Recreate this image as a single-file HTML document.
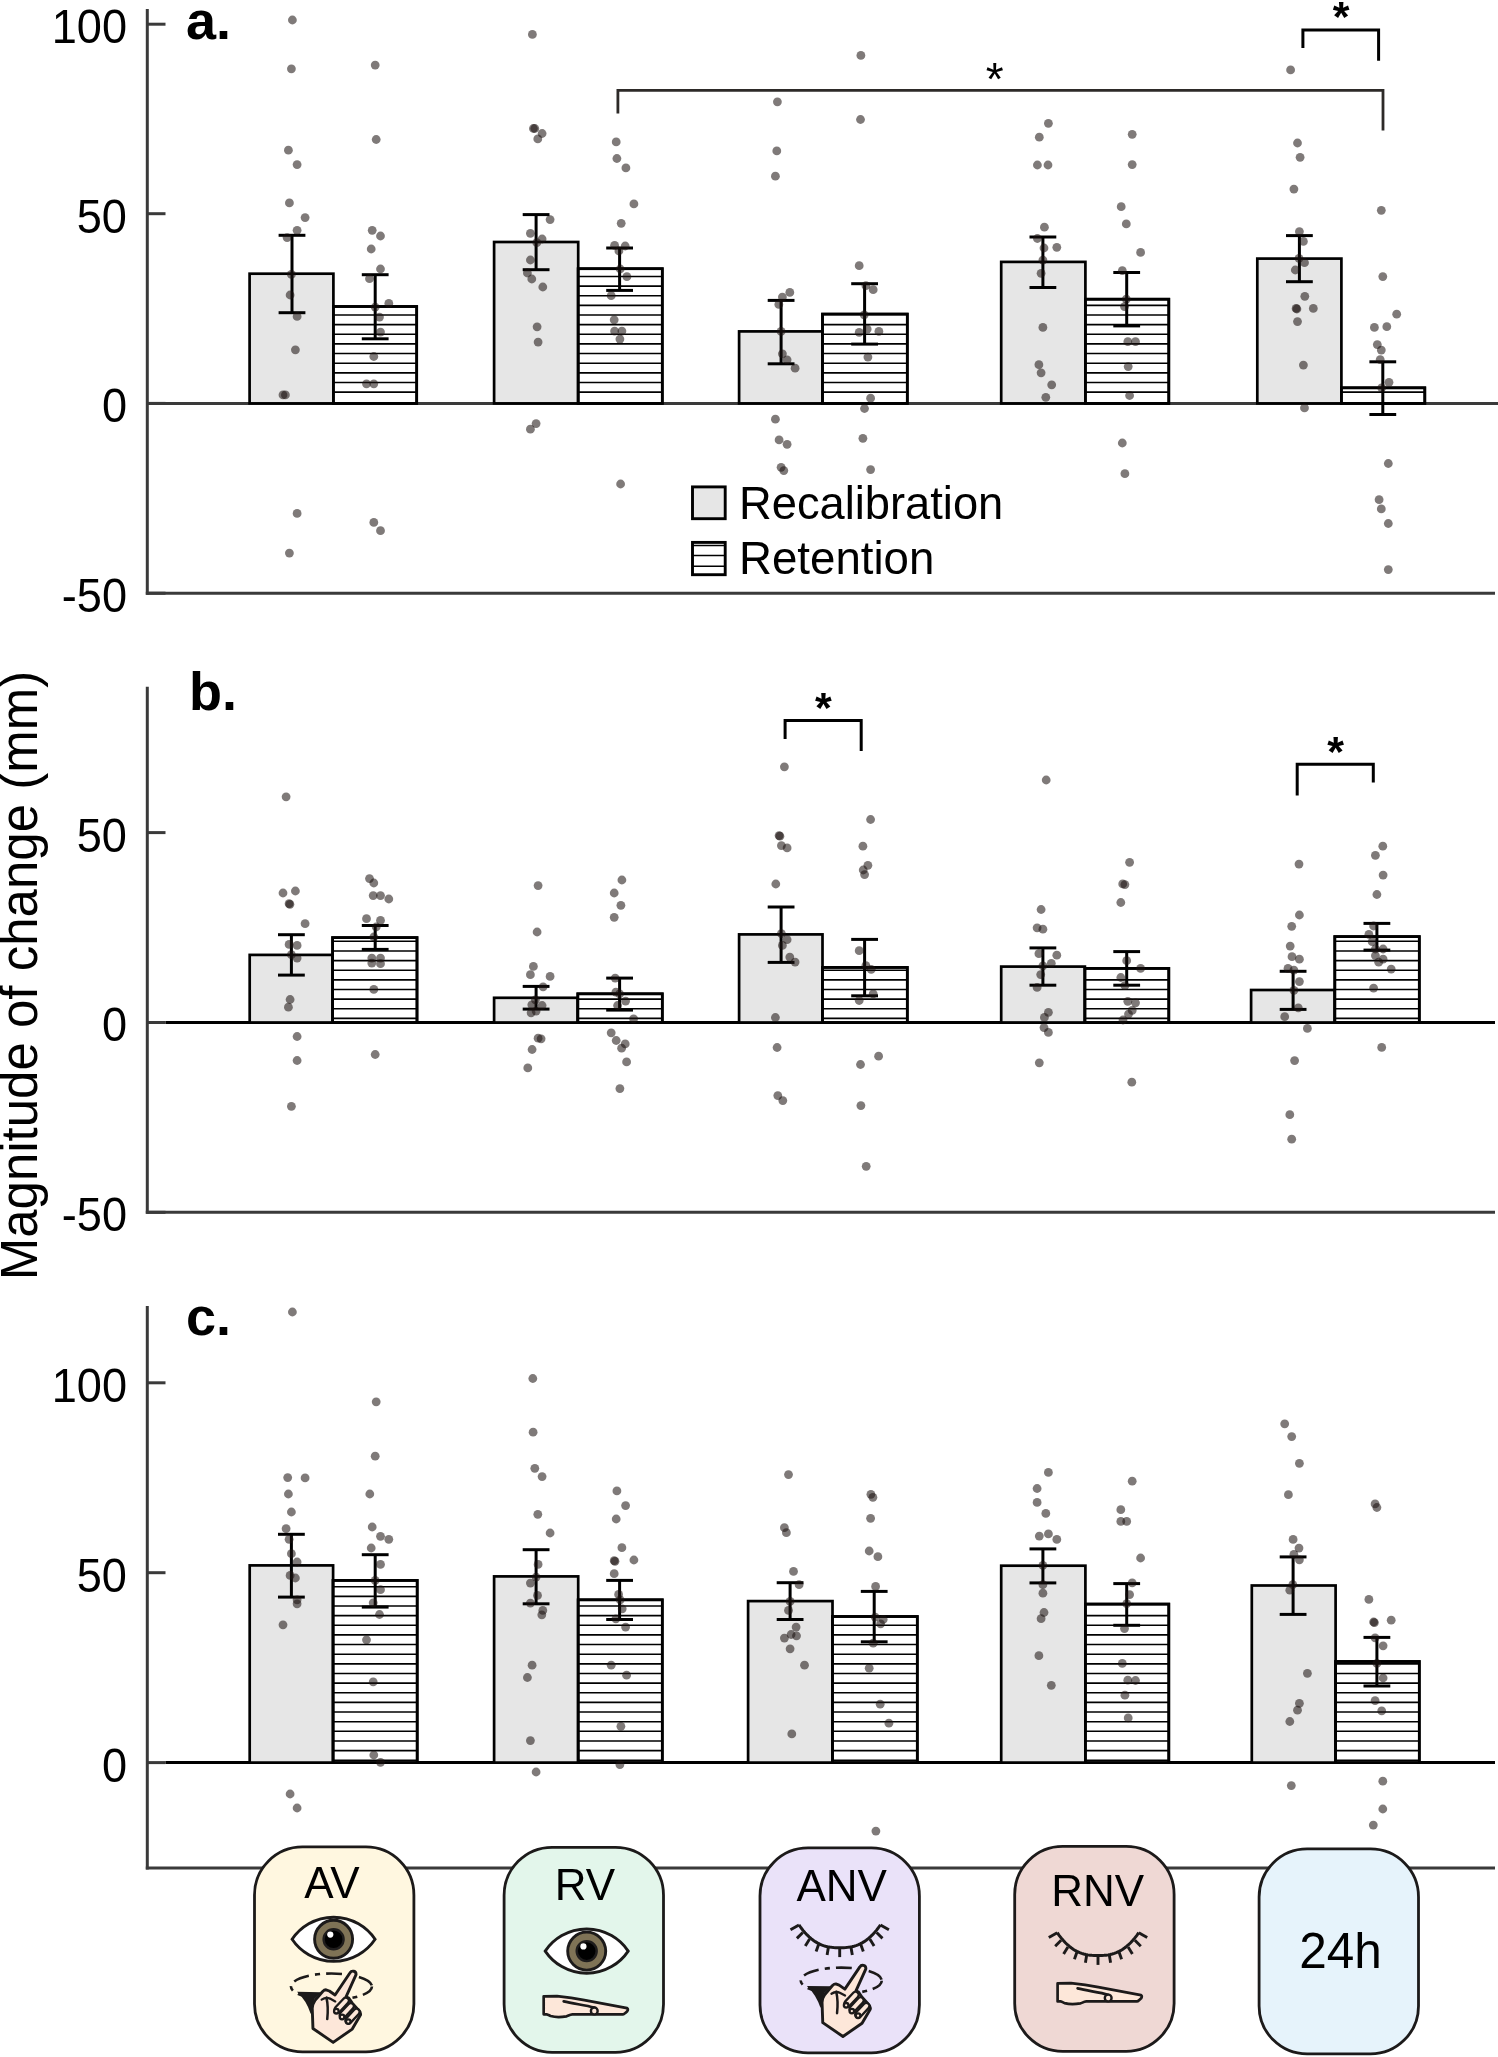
<!DOCTYPE html>
<html><head><meta charset="utf-8"><style>
html,body{margin:0;padding:0;background:#fff;overflow:hidden;width:1498px;height:2057px;}
svg{display:block;will-change:transform;}
text{font-family:"Liberation Sans",sans-serif;fill:#000;}
</style></head><body>
<svg width="1498" height="2057" viewBox="0 0 1498 2057">
<rect width="1498" height="2057" fill="#fff"/>
<line x1="147.3" y1="9.1" x2="147.3" y2="594.7" stroke="#3a3a3a" stroke-width="3.0"/>
<line x1="145.8" y1="593.2" x2="1495" y2="593.2" stroke="#3a3a3a" stroke-width="3.0"/>
<line x1="147.3" y1="24.2" x2="165.5" y2="24.2" stroke="#3a3a3a" stroke-width="3.0"/>
<text transform="translate(127 43.1) scale(0.955 1)" font-size="47.3" text-anchor="end">100</text>
<line x1="147.3" y1="213.7" x2="165.5" y2="213.7" stroke="#3a3a3a" stroke-width="3.0"/>
<text transform="translate(127 232.6) scale(0.955 1)" font-size="47.3" text-anchor="end">50</text>
<line x1="147.3" y1="403.4" x2="165.5" y2="403.4" stroke="#3a3a3a" stroke-width="3.0"/>
<text transform="translate(127 422.3) scale(0.955 1)" font-size="47.3" text-anchor="end">0</text>
<line x1="147.3" y1="593.2" x2="165.5" y2="593.2" stroke="#3a3a3a" stroke-width="3.0"/>
<text transform="translate(127 612.1) scale(0.955 1)" font-size="47.3" text-anchor="end">-50</text>
<line x1="147.3" y1="403.4" x2="1498" y2="403.4" stroke="#3a3a3a" stroke-width="3.0"/>
<rect x="249.6" y="273.7" width="83.8" height="129.7" fill="#e6e6e6" stroke="#000" stroke-width="2.7"/>
<rect x="333.4" y="306.5" width="83.3" height="96.9" fill="#fff" stroke="#000" stroke-width="2.7"/>
<line x1="333.4" y1="315" x2="416.7" y2="315" stroke="#000" stroke-width="1.6"/>
<line x1="333.4" y1="324.64" x2="416.7" y2="324.64" stroke="#000" stroke-width="1.6"/>
<line x1="333.4" y1="334.28" x2="416.7" y2="334.28" stroke="#000" stroke-width="1.6"/>
<line x1="333.4" y1="343.92" x2="416.7" y2="343.92" stroke="#000" stroke-width="1.6"/>
<line x1="333.4" y1="353.56" x2="416.7" y2="353.56" stroke="#000" stroke-width="1.6"/>
<line x1="333.4" y1="363.2" x2="416.7" y2="363.2" stroke="#000" stroke-width="1.6"/>
<line x1="333.4" y1="372.84" x2="416.7" y2="372.84" stroke="#000" stroke-width="1.6"/>
<line x1="333.4" y1="382.48" x2="416.7" y2="382.48" stroke="#000" stroke-width="1.6"/>
<line x1="333.4" y1="392.12" x2="416.7" y2="392.12" stroke="#000" stroke-width="1.6"/>
<rect x="333.4" y="306.5" width="83.3" height="96.9" fill="none" stroke="#000" stroke-width="2.7"/>
<rect x="494.1" y="242" width="84.1" height="161.4" fill="#e6e6e6" stroke="#000" stroke-width="2.7"/>
<rect x="578.2" y="268.7" width="84.1" height="134.7" fill="#fff" stroke="#000" stroke-width="2.7"/>
<line x1="578.2" y1="276.44" x2="662.3" y2="276.44" stroke="#000" stroke-width="1.6"/>
<line x1="578.2" y1="286.08" x2="662.3" y2="286.08" stroke="#000" stroke-width="1.6"/>
<line x1="578.2" y1="295.72" x2="662.3" y2="295.72" stroke="#000" stroke-width="1.6"/>
<line x1="578.2" y1="305.36" x2="662.3" y2="305.36" stroke="#000" stroke-width="1.6"/>
<line x1="578.2" y1="315" x2="662.3" y2="315" stroke="#000" stroke-width="1.6"/>
<line x1="578.2" y1="324.64" x2="662.3" y2="324.64" stroke="#000" stroke-width="1.6"/>
<line x1="578.2" y1="334.28" x2="662.3" y2="334.28" stroke="#000" stroke-width="1.6"/>
<line x1="578.2" y1="343.92" x2="662.3" y2="343.92" stroke="#000" stroke-width="1.6"/>
<line x1="578.2" y1="353.56" x2="662.3" y2="353.56" stroke="#000" stroke-width="1.6"/>
<line x1="578.2" y1="363.2" x2="662.3" y2="363.2" stroke="#000" stroke-width="1.6"/>
<line x1="578.2" y1="372.84" x2="662.3" y2="372.84" stroke="#000" stroke-width="1.6"/>
<line x1="578.2" y1="382.48" x2="662.3" y2="382.48" stroke="#000" stroke-width="1.6"/>
<line x1="578.2" y1="392.12" x2="662.3" y2="392.12" stroke="#000" stroke-width="1.6"/>
<rect x="578.2" y="268.7" width="84.1" height="134.7" fill="none" stroke="#000" stroke-width="2.7"/>
<rect x="739.1" y="331.4" width="83.4" height="72" fill="#e6e6e6" stroke="#000" stroke-width="2.7"/>
<rect x="822.5" y="314.1" width="84.8" height="89.3" fill="#fff" stroke="#000" stroke-width="2.7"/>
<line x1="822.5" y1="324.64" x2="907.3" y2="324.64" stroke="#000" stroke-width="1.6"/>
<line x1="822.5" y1="334.28" x2="907.3" y2="334.28" stroke="#000" stroke-width="1.6"/>
<line x1="822.5" y1="343.92" x2="907.3" y2="343.92" stroke="#000" stroke-width="1.6"/>
<line x1="822.5" y1="353.56" x2="907.3" y2="353.56" stroke="#000" stroke-width="1.6"/>
<line x1="822.5" y1="363.2" x2="907.3" y2="363.2" stroke="#000" stroke-width="1.6"/>
<line x1="822.5" y1="372.84" x2="907.3" y2="372.84" stroke="#000" stroke-width="1.6"/>
<line x1="822.5" y1="382.48" x2="907.3" y2="382.48" stroke="#000" stroke-width="1.6"/>
<line x1="822.5" y1="392.12" x2="907.3" y2="392.12" stroke="#000" stroke-width="1.6"/>
<rect x="822.5" y="314.1" width="84.8" height="89.3" fill="none" stroke="#000" stroke-width="2.7"/>
<rect x="1001.2" y="261.9" width="84.2" height="141.5" fill="#e6e6e6" stroke="#000" stroke-width="2.7"/>
<rect x="1085.4" y="299.2" width="83.4" height="104.2" fill="#fff" stroke="#000" stroke-width="2.7"/>
<line x1="1085.4" y1="305.36" x2="1168.8" y2="305.36" stroke="#000" stroke-width="1.6"/>
<line x1="1085.4" y1="315" x2="1168.8" y2="315" stroke="#000" stroke-width="1.6"/>
<line x1="1085.4" y1="324.64" x2="1168.8" y2="324.64" stroke="#000" stroke-width="1.6"/>
<line x1="1085.4" y1="334.28" x2="1168.8" y2="334.28" stroke="#000" stroke-width="1.6"/>
<line x1="1085.4" y1="343.92" x2="1168.8" y2="343.92" stroke="#000" stroke-width="1.6"/>
<line x1="1085.4" y1="353.56" x2="1168.8" y2="353.56" stroke="#000" stroke-width="1.6"/>
<line x1="1085.4" y1="363.2" x2="1168.8" y2="363.2" stroke="#000" stroke-width="1.6"/>
<line x1="1085.4" y1="372.84" x2="1168.8" y2="372.84" stroke="#000" stroke-width="1.6"/>
<line x1="1085.4" y1="382.48" x2="1168.8" y2="382.48" stroke="#000" stroke-width="1.6"/>
<line x1="1085.4" y1="392.12" x2="1168.8" y2="392.12" stroke="#000" stroke-width="1.6"/>
<rect x="1085.4" y="299.2" width="83.4" height="104.2" fill="none" stroke="#000" stroke-width="2.7"/>
<rect x="1257.3" y="258.6" width="84.1" height="144.8" fill="#e6e6e6" stroke="#000" stroke-width="2.7"/>
<rect x="1341.4" y="387.8" width="83.4" height="15.6" fill="#fff" stroke="#000" stroke-width="2.7"/>
<line x1="1341.4" y1="392.12" x2="1424.8" y2="392.12" stroke="#000" stroke-width="1.6"/>
<rect x="1341.4" y="387.8" width="83.4" height="15.6" fill="none" stroke="#000" stroke-width="2.7"/>
<line x1="292" y1="235.3" x2="292" y2="312.7" stroke="#000" stroke-width="3.0"/>
<line x1="278.6" y1="235.3" x2="305.4" y2="235.3" stroke="#000" stroke-width="3.0"/>
<line x1="278.6" y1="312.7" x2="305.4" y2="312.7" stroke="#000" stroke-width="3.0"/>
<line x1="375.2" y1="274.7" x2="375.2" y2="338.8" stroke="#000" stroke-width="3.0"/>
<line x1="361.8" y1="274.7" x2="388.6" y2="274.7" stroke="#000" stroke-width="3.0"/>
<line x1="361.8" y1="338.8" x2="388.6" y2="338.8" stroke="#000" stroke-width="3.0"/>
<line x1="536.1" y1="214.6" x2="536.1" y2="269.7" stroke="#000" stroke-width="3.0"/>
<line x1="522.7" y1="214.6" x2="549.5" y2="214.6" stroke="#000" stroke-width="3.0"/>
<line x1="522.7" y1="269.7" x2="549.5" y2="269.7" stroke="#000" stroke-width="3.0"/>
<line x1="619.6" y1="248" x2="619.6" y2="290.4" stroke="#000" stroke-width="3.0"/>
<line x1="606.2" y1="248" x2="633" y2="248" stroke="#000" stroke-width="3.0"/>
<line x1="606.2" y1="290.4" x2="633" y2="290.4" stroke="#000" stroke-width="3.0"/>
<line x1="781.1" y1="300.4" x2="781.1" y2="363.8" stroke="#000" stroke-width="3.0"/>
<line x1="767.7" y1="300.4" x2="794.5" y2="300.4" stroke="#000" stroke-width="3.0"/>
<line x1="767.7" y1="363.8" x2="794.5" y2="363.8" stroke="#000" stroke-width="3.0"/>
<line x1="864.6" y1="283.7" x2="864.6" y2="344.1" stroke="#000" stroke-width="3.0"/>
<line x1="851.2" y1="283.7" x2="878" y2="283.7" stroke="#000" stroke-width="3.0"/>
<line x1="851.2" y1="344.1" x2="878" y2="344.1" stroke="#000" stroke-width="3.0"/>
<line x1="1042.9" y1="237" x2="1042.9" y2="287.5" stroke="#000" stroke-width="3.0"/>
<line x1="1029.5" y1="237" x2="1056.3" y2="237" stroke="#000" stroke-width="3.0"/>
<line x1="1029.5" y1="287.5" x2="1056.3" y2="287.5" stroke="#000" stroke-width="3.0"/>
<line x1="1126.7" y1="272.5" x2="1126.7" y2="325.9" stroke="#000" stroke-width="3.0"/>
<line x1="1113.3" y1="272.5" x2="1140.1" y2="272.5" stroke="#000" stroke-width="3.0"/>
<line x1="1113.3" y1="325.9" x2="1140.1" y2="325.9" stroke="#000" stroke-width="3.0"/>
<line x1="1299.4" y1="235.6" x2="1299.4" y2="281.7" stroke="#000" stroke-width="3.0"/>
<line x1="1286" y1="235.6" x2="1312.8" y2="235.6" stroke="#000" stroke-width="3.0"/>
<line x1="1286" y1="281.7" x2="1312.8" y2="281.7" stroke="#000" stroke-width="3.0"/>
<line x1="1382.8" y1="361.8" x2="1382.8" y2="414.5" stroke="#000" stroke-width="3.0"/>
<line x1="1369.4" y1="361.8" x2="1396.2" y2="361.8" stroke="#000" stroke-width="3.0"/>
<line x1="1369.4" y1="414.5" x2="1396.2" y2="414.5" stroke="#000" stroke-width="3.0"/>
<g fill="#1a1210" fill-opacity="0.56">
<circle cx="292.4" cy="20" r="4.4"/>
<circle cx="291.4" cy="68.8" r="4.4"/>
<circle cx="288.4" cy="150.2" r="4.4"/>
<circle cx="297.1" cy="164.6" r="4.4"/>
<circle cx="289.4" cy="202.9" r="4.4"/>
<circle cx="305.1" cy="217.6" r="4.4"/>
<circle cx="297.1" cy="230.3" r="4.4"/>
<circle cx="287.1" cy="237.6" r="4.4"/>
<circle cx="291.4" cy="274.4" r="4.4"/>
<circle cx="290.1" cy="295" r="4.4"/>
<circle cx="297.1" cy="316.4" r="4.4"/>
<circle cx="295.4" cy="349.8" r="4.4"/>
<circle cx="285.4" cy="394.9" r="4.4"/>
<circle cx="283" cy="394.9" r="4.4"/>
<circle cx="297.1" cy="513.4" r="4.4"/>
<circle cx="289.4" cy="553.1" r="4.4"/>
<circle cx="375.2" cy="65.1" r="4.4"/>
<circle cx="376.2" cy="139.5" r="4.4"/>
<circle cx="372.2" cy="230.3" r="4.4"/>
<circle cx="380.5" cy="236" r="4.4"/>
<circle cx="371.2" cy="249" r="4.4"/>
<circle cx="380.5" cy="269" r="4.4"/>
<circle cx="369.5" cy="278.7" r="4.4"/>
<circle cx="388.8" cy="303.4" r="4.4"/>
<circle cx="375.2" cy="307.1" r="4.4"/>
<circle cx="379.5" cy="317.1" r="4.4"/>
<circle cx="380.5" cy="332.1" r="4.4"/>
<circle cx="373.8" cy="356.5" r="4.4"/>
<circle cx="366.5" cy="383.8" r="4.4"/>
<circle cx="373.8" cy="383.8" r="4.4"/>
<circle cx="373.8" cy="522.4" r="4.4"/>
<circle cx="380.5" cy="530.7" r="4.4"/>
<circle cx="532.4" cy="34.4" r="4.4"/>
<circle cx="533.4" cy="128.5" r="4.4"/>
<circle cx="534.8" cy="128.5" r="4.4"/>
<circle cx="542.1" cy="133.5" r="4.4"/>
<circle cx="537.8" cy="138.9" r="4.4"/>
<circle cx="550.1" cy="219.6" r="4.4"/>
<circle cx="530.4" cy="233.3" r="4.4"/>
<circle cx="542.1" cy="239" r="4.4"/>
<circle cx="536.8" cy="242.7" r="4.4"/>
<circle cx="530.4" cy="260" r="4.4"/>
<circle cx="527.4" cy="273" r="4.4"/>
<circle cx="531.8" cy="279" r="4.4"/>
<circle cx="542.8" cy="287" r="4.4"/>
<circle cx="537.1" cy="326.8" r="4.4"/>
<circle cx="538.1" cy="342.1" r="4.4"/>
<circle cx="536.1" cy="423.6" r="4.4"/>
<circle cx="530.4" cy="429.2" r="4.4"/>
<circle cx="616.2" cy="141.9" r="4.4"/>
<circle cx="616.9" cy="158.5" r="4.4"/>
<circle cx="625.9" cy="167.9" r="4.4"/>
<circle cx="633.9" cy="203.9" r="4.4"/>
<circle cx="621.2" cy="223.3" r="4.4"/>
<circle cx="614.6" cy="245.3" r="4.4"/>
<circle cx="625.2" cy="246" r="4.4"/>
<circle cx="618.9" cy="251" r="4.4"/>
<circle cx="620.2" cy="269" r="4.4"/>
<circle cx="626.9" cy="276.7" r="4.4"/>
<circle cx="611.2" cy="295.7" r="4.4"/>
<circle cx="614.2" cy="319.8" r="4.4"/>
<circle cx="614.6" cy="331.1" r="4.4"/>
<circle cx="621.9" cy="331.1" r="4.4"/>
<circle cx="619.9" cy="339.1" r="4.4"/>
<circle cx="620.6" cy="484" r="4.4"/>
<circle cx="777.4" cy="101.8" r="4.4"/>
<circle cx="776.8" cy="150.9" r="4.4"/>
<circle cx="775.4" cy="176.2" r="4.4"/>
<circle cx="789.8" cy="292.4" r="4.4"/>
<circle cx="782.4" cy="297.1" r="4.4"/>
<circle cx="778.8" cy="304.4" r="4.4"/>
<circle cx="781.1" cy="331.4" r="4.4"/>
<circle cx="782.4" cy="353.8" r="4.4"/>
<circle cx="787.1" cy="359.8" r="4.4"/>
<circle cx="795.1" cy="368.2" r="4.4"/>
<circle cx="775.4" cy="419.2" r="4.4"/>
<circle cx="779.1" cy="439.9" r="4.4"/>
<circle cx="787.1" cy="444.3" r="4.4"/>
<circle cx="781.1" cy="467.3" r="4.4"/>
<circle cx="783.8" cy="470.6" r="4.4"/>
<circle cx="860.9" cy="55.4" r="4.4"/>
<circle cx="860.5" cy="119.5" r="4.4"/>
<circle cx="859.2" cy="265.7" r="4.4"/>
<circle cx="865.9" cy="285.7" r="4.4"/>
<circle cx="873.2" cy="289.7" r="4.4"/>
<circle cx="864.2" cy="314.8" r="4.4"/>
<circle cx="859.2" cy="332.4" r="4.4"/>
<circle cx="867.2" cy="329.1" r="4.4"/>
<circle cx="878.9" cy="331.4" r="4.4"/>
<circle cx="867.9" cy="357.1" r="4.4"/>
<circle cx="870.6" cy="398.2" r="4.4"/>
<circle cx="864.5" cy="408.5" r="4.4"/>
<circle cx="862.9" cy="438.3" r="4.4"/>
<circle cx="870.6" cy="469.6" r="4.4"/>
<circle cx="1048.4" cy="123.3" r="4.4"/>
<circle cx="1039.3" cy="137.2" r="4.4"/>
<circle cx="1037.4" cy="165" r="4.4"/>
<circle cx="1048" cy="165" r="4.4"/>
<circle cx="1044.4" cy="227.2" r="4.4"/>
<circle cx="1037.4" cy="238.5" r="4.4"/>
<circle cx="1044" cy="248" r="4.4"/>
<circle cx="1056.8" cy="247.3" r="4.4"/>
<circle cx="1042.9" cy="260.1" r="4.4"/>
<circle cx="1041.1" cy="273.3" r="4.4"/>
<circle cx="1042.9" cy="327.4" r="4.4"/>
<circle cx="1038.9" cy="364.7" r="4.4"/>
<circle cx="1041.1" cy="372.8" r="4.4"/>
<circle cx="1051.7" cy="384.8" r="4.4"/>
<circle cx="1045.8" cy="397.3" r="4.4"/>
<circle cx="1132.2" cy="134.3" r="4.4"/>
<circle cx="1132.2" cy="164.6" r="4.4"/>
<circle cx="1121.2" cy="206.7" r="4.4"/>
<circle cx="1126.3" cy="223.9" r="4.4"/>
<circle cx="1140.6" cy="252.4" r="4.4"/>
<circle cx="1122.3" cy="270.7" r="4.4"/>
<circle cx="1126.3" cy="299.2" r="4.4"/>
<circle cx="1124.5" cy="306.6" r="4.4"/>
<circle cx="1127.8" cy="341.7" r="4.4"/>
<circle cx="1135.5" cy="341.7" r="4.4"/>
<circle cx="1128.2" cy="366.6" r="4.4"/>
<circle cx="1129.6" cy="395.5" r="4.4"/>
<circle cx="1122.3" cy="443" r="4.4"/>
<circle cx="1124.9" cy="473.7" r="4.4"/>
<circle cx="1290.6" cy="69.9" r="4.4"/>
<circle cx="1297.5" cy="143" r="4.4"/>
<circle cx="1300.1" cy="157.3" r="4.4"/>
<circle cx="1293.9" cy="189.1" r="4.4"/>
<circle cx="1299.4" cy="231.6" r="4.4"/>
<circle cx="1303.4" cy="241.4" r="4.4"/>
<circle cx="1299" cy="258.3" r="4.4"/>
<circle cx="1304.5" cy="262.7" r="4.4"/>
<circle cx="1295.3" cy="270" r="4.4"/>
<circle cx="1304.8" cy="296.3" r="4.4"/>
<circle cx="1296.1" cy="308.4" r="4.4"/>
<circle cx="1313.3" cy="308.4" r="4.4"/>
<circle cx="1297.5" cy="321.6" r="4.4"/>
<circle cx="1303.4" cy="365.1" r="4.4"/>
<circle cx="1304.5" cy="407.9" r="4.4"/>
<circle cx="1381.3" cy="210.3" r="4.4"/>
<circle cx="1382.8" cy="276.6" r="4.4"/>
<circle cx="1396.7" cy="314.2" r="4.4"/>
<circle cx="1374.4" cy="327.4" r="4.4"/>
<circle cx="1386.8" cy="326.7" r="4.4"/>
<circle cx="1377.3" cy="344.6" r="4.4"/>
<circle cx="1381.3" cy="350.1" r="4.4"/>
<circle cx="1380.2" cy="359.6" r="4.4"/>
<circle cx="1389" cy="382.3" r="4.4"/>
<circle cx="1381.7" cy="387.8" r="4.4"/>
<circle cx="1388.3" cy="463.5" r="4.4"/>
<circle cx="1379.1" cy="499.7" r="4.4"/>
<circle cx="1381.3" cy="508.9" r="4.4"/>
<circle cx="1388.3" cy="523.5" r="4.4"/>
<circle cx="1388.3" cy="569.6" r="4.4"/>
<circle cx="1296.9" cy="309" r="4.4"/>
</g>
<line x1="147.3" y1="686.7" x2="147.3" y2="1213.8" stroke="#3a3a3a" stroke-width="3.0"/>
<line x1="145.8" y1="1212.3" x2="1495" y2="1212.3" stroke="#3a3a3a" stroke-width="3.0"/>
<line x1="147.3" y1="832.6" x2="165.5" y2="832.6" stroke="#3a3a3a" stroke-width="3.0"/>
<text transform="translate(127 851.5) scale(0.955 1)" font-size="47.3" text-anchor="end">50</text>
<line x1="147.3" y1="1022.5" x2="165.5" y2="1022.5" stroke="#3a3a3a" stroke-width="3.0"/>
<text transform="translate(127 1041.4) scale(0.955 1)" font-size="47.3" text-anchor="end">0</text>
<line x1="147.3" y1="1212.3" x2="165.5" y2="1212.3" stroke="#3a3a3a" stroke-width="3.0"/>
<text transform="translate(127 1231.2) scale(0.955 1)" font-size="47.3" text-anchor="end">-50</text>
<line x1="165.5" y1="1022.5" x2="1495" y2="1022.5" stroke="#000" stroke-width="3.0"/>
<rect x="249.7" y="954.9" width="82.9" height="67.6" fill="#e6e6e6" stroke="#000" stroke-width="2.7"/>
<rect x="332.6" y="937.6" width="84.4" height="84.9" fill="#fff" stroke="#000" stroke-width="2.7"/>
<line x1="332.6" y1="941.3" x2="417" y2="941.3" stroke="#000" stroke-width="1.6"/>
<line x1="332.6" y1="950.94" x2="417" y2="950.94" stroke="#000" stroke-width="1.6"/>
<line x1="332.6" y1="960.58" x2="417" y2="960.58" stroke="#000" stroke-width="1.6"/>
<line x1="332.6" y1="970.22" x2="417" y2="970.22" stroke="#000" stroke-width="1.6"/>
<line x1="332.6" y1="979.86" x2="417" y2="979.86" stroke="#000" stroke-width="1.6"/>
<line x1="332.6" y1="989.5" x2="417" y2="989.5" stroke="#000" stroke-width="1.6"/>
<line x1="332.6" y1="999.14" x2="417" y2="999.14" stroke="#000" stroke-width="1.6"/>
<line x1="332.6" y1="1008.78" x2="417" y2="1008.78" stroke="#000" stroke-width="1.6"/>
<line x1="332.6" y1="1018.42" x2="417" y2="1018.42" stroke="#000" stroke-width="1.6"/>
<rect x="332.6" y="937.6" width="84.4" height="84.9" fill="none" stroke="#000" stroke-width="2.7"/>
<rect x="494.1" y="997.8" width="83.7" height="24.7" fill="#e6e6e6" stroke="#000" stroke-width="2.7"/>
<rect x="577.8" y="993.8" width="84.5" height="28.7" fill="#fff" stroke="#000" stroke-width="2.7"/>
<line x1="577.8" y1="999.14" x2="662.3" y2="999.14" stroke="#000" stroke-width="1.6"/>
<line x1="577.8" y1="1008.78" x2="662.3" y2="1008.78" stroke="#000" stroke-width="1.6"/>
<line x1="577.8" y1="1018.42" x2="662.3" y2="1018.42" stroke="#000" stroke-width="1.6"/>
<rect x="577.8" y="993.8" width="84.5" height="28.7" fill="none" stroke="#000" stroke-width="2.7"/>
<rect x="739.1" y="934.4" width="83.4" height="88.1" fill="#e6e6e6" stroke="#000" stroke-width="2.7"/>
<rect x="822.5" y="967.4" width="84.8" height="55.1" fill="#fff" stroke="#000" stroke-width="2.7"/>
<line x1="822.5" y1="970.22" x2="907.3" y2="970.22" stroke="#000" stroke-width="1.6"/>
<line x1="822.5" y1="979.86" x2="907.3" y2="979.86" stroke="#000" stroke-width="1.6"/>
<line x1="822.5" y1="989.5" x2="907.3" y2="989.5" stroke="#000" stroke-width="1.6"/>
<line x1="822.5" y1="999.14" x2="907.3" y2="999.14" stroke="#000" stroke-width="1.6"/>
<line x1="822.5" y1="1008.78" x2="907.3" y2="1008.78" stroke="#000" stroke-width="1.6"/>
<line x1="822.5" y1="1018.42" x2="907.3" y2="1018.42" stroke="#000" stroke-width="1.6"/>
<rect x="822.5" y="967.4" width="84.8" height="55.1" fill="none" stroke="#000" stroke-width="2.7"/>
<rect x="1001.2" y="966.6" width="83.7" height="55.9" fill="#e6e6e6" stroke="#000" stroke-width="2.7"/>
<rect x="1084.9" y="968.4" width="83.9" height="54.1" fill="#fff" stroke="#000" stroke-width="2.7"/>
<line x1="1084.9" y1="979.86" x2="1168.8" y2="979.86" stroke="#000" stroke-width="1.6"/>
<line x1="1084.9" y1="989.5" x2="1168.8" y2="989.5" stroke="#000" stroke-width="1.6"/>
<line x1="1084.9" y1="999.14" x2="1168.8" y2="999.14" stroke="#000" stroke-width="1.6"/>
<line x1="1084.9" y1="1008.78" x2="1168.8" y2="1008.78" stroke="#000" stroke-width="1.6"/>
<line x1="1084.9" y1="1018.42" x2="1168.8" y2="1018.42" stroke="#000" stroke-width="1.6"/>
<rect x="1084.9" y="968.4" width="83.9" height="54.1" fill="none" stroke="#000" stroke-width="2.7"/>
<rect x="1251.1" y="990" width="83.7" height="32.5" fill="#e6e6e6" stroke="#000" stroke-width="2.7"/>
<rect x="1334.8" y="936.6" width="84.5" height="85.9" fill="#fff" stroke="#000" stroke-width="2.7"/>
<line x1="1334.8" y1="941.3" x2="1419.3" y2="941.3" stroke="#000" stroke-width="1.6"/>
<line x1="1334.8" y1="950.94" x2="1419.3" y2="950.94" stroke="#000" stroke-width="1.6"/>
<line x1="1334.8" y1="960.58" x2="1419.3" y2="960.58" stroke="#000" stroke-width="1.6"/>
<line x1="1334.8" y1="970.22" x2="1419.3" y2="970.22" stroke="#000" stroke-width="1.6"/>
<line x1="1334.8" y1="979.86" x2="1419.3" y2="979.86" stroke="#000" stroke-width="1.6"/>
<line x1="1334.8" y1="989.5" x2="1419.3" y2="989.5" stroke="#000" stroke-width="1.6"/>
<line x1="1334.8" y1="999.14" x2="1419.3" y2="999.14" stroke="#000" stroke-width="1.6"/>
<line x1="1334.8" y1="1008.78" x2="1419.3" y2="1008.78" stroke="#000" stroke-width="1.6"/>
<line x1="1334.8" y1="1018.42" x2="1419.3" y2="1018.42" stroke="#000" stroke-width="1.6"/>
<rect x="1334.8" y="936.6" width="84.5" height="85.9" fill="none" stroke="#000" stroke-width="2.7"/>
<line x1="291.4" y1="934.7" x2="291.4" y2="975.1" stroke="#000" stroke-width="3.0"/>
<line x1="278" y1="934.7" x2="304.8" y2="934.7" stroke="#000" stroke-width="3.0"/>
<line x1="278" y1="975.1" x2="304.8" y2="975.1" stroke="#000" stroke-width="3.0"/>
<line x1="375.2" y1="925.5" x2="375.2" y2="949.4" stroke="#000" stroke-width="3.0"/>
<line x1="361.8" y1="925.5" x2="388.6" y2="925.5" stroke="#000" stroke-width="3.0"/>
<line x1="361.8" y1="949.4" x2="388.6" y2="949.4" stroke="#000" stroke-width="3.0"/>
<line x1="536.1" y1="986.4" x2="536.1" y2="1009.1" stroke="#000" stroke-width="3.0"/>
<line x1="522.7" y1="986.4" x2="549.5" y2="986.4" stroke="#000" stroke-width="3.0"/>
<line x1="522.7" y1="1009.1" x2="549.5" y2="1009.1" stroke="#000" stroke-width="3.0"/>
<line x1="619.6" y1="978.1" x2="619.6" y2="1010.1" stroke="#000" stroke-width="3.0"/>
<line x1="606.2" y1="978.1" x2="633" y2="978.1" stroke="#000" stroke-width="3.0"/>
<line x1="606.2" y1="1010.1" x2="633" y2="1010.1" stroke="#000" stroke-width="3.0"/>
<line x1="781.1" y1="907" x2="781.1" y2="962.4" stroke="#000" stroke-width="3.0"/>
<line x1="767.7" y1="907" x2="794.5" y2="907" stroke="#000" stroke-width="3.0"/>
<line x1="767.7" y1="962.4" x2="794.5" y2="962.4" stroke="#000" stroke-width="3.0"/>
<line x1="864.6" y1="939.4" x2="864.6" y2="995.8" stroke="#000" stroke-width="3.0"/>
<line x1="851.2" y1="939.4" x2="878" y2="939.4" stroke="#000" stroke-width="3.0"/>
<line x1="851.2" y1="995.8" x2="878" y2="995.8" stroke="#000" stroke-width="3.0"/>
<line x1="1042.9" y1="947.9" x2="1042.9" y2="985.2" stroke="#000" stroke-width="3.0"/>
<line x1="1029.5" y1="947.9" x2="1056.3" y2="947.9" stroke="#000" stroke-width="3.0"/>
<line x1="1029.5" y1="985.2" x2="1056.3" y2="985.2" stroke="#000" stroke-width="3.0"/>
<line x1="1126.7" y1="951.6" x2="1126.7" y2="985.2" stroke="#000" stroke-width="3.0"/>
<line x1="1113.3" y1="951.6" x2="1140.1" y2="951.6" stroke="#000" stroke-width="3.0"/>
<line x1="1113.3" y1="985.2" x2="1140.1" y2="985.2" stroke="#000" stroke-width="3.0"/>
<line x1="1293.1" y1="971.3" x2="1293.1" y2="1009.4" stroke="#000" stroke-width="3.0"/>
<line x1="1279.7" y1="971.3" x2="1306.5" y2="971.3" stroke="#000" stroke-width="3.0"/>
<line x1="1279.7" y1="1009.4" x2="1306.5" y2="1009.4" stroke="#000" stroke-width="3.0"/>
<line x1="1376.9" y1="923.4" x2="1376.9" y2="950.1" stroke="#000" stroke-width="3.0"/>
<line x1="1363.5" y1="923.4" x2="1390.3" y2="923.4" stroke="#000" stroke-width="3.0"/>
<line x1="1363.5" y1="950.1" x2="1390.3" y2="950.1" stroke="#000" stroke-width="3.0"/>
<g fill="#1a1210" fill-opacity="0.56">
<circle cx="286.1" cy="796.8" r="4.4"/>
<circle cx="283" cy="893" r="4.4"/>
<circle cx="295.4" cy="891" r="4.4"/>
<circle cx="289.1" cy="903.7" r="4.4"/>
<circle cx="305.1" cy="923.7" r="4.4"/>
<circle cx="289.1" cy="944.4" r="4.4"/>
<circle cx="297.1" cy="945.4" r="4.4"/>
<circle cx="291.4" cy="954.7" r="4.4"/>
<circle cx="297.1" cy="958.1" r="4.4"/>
<circle cx="290.1" cy="999.5" r="4.4"/>
<circle cx="288.4" cy="1007.2" r="4.4"/>
<circle cx="297.1" cy="1036.5" r="4.4"/>
<circle cx="297.1" cy="1060.5" r="4.4"/>
<circle cx="291.4" cy="1106.3" r="4.4"/>
<circle cx="369.5" cy="878.6" r="4.4"/>
<circle cx="373.8" cy="883" r="4.4"/>
<circle cx="373.2" cy="895.6" r="4.4"/>
<circle cx="380.5" cy="895.6" r="4.4"/>
<circle cx="388.8" cy="899" r="4.4"/>
<circle cx="366.5" cy="918.7" r="4.4"/>
<circle cx="380.5" cy="920.4" r="4.4"/>
<circle cx="376.2" cy="927" r="4.4"/>
<circle cx="373.8" cy="937" r="4.4"/>
<circle cx="371.8" cy="958.1" r="4.4"/>
<circle cx="380.5" cy="958.1" r="4.4"/>
<circle cx="371.8" cy="963.1" r="4.4"/>
<circle cx="380.5" cy="963.7" r="4.4"/>
<circle cx="373.8" cy="989.4" r="4.4"/>
<circle cx="375.2" cy="1054.5" r="4.4"/>
<circle cx="538.1" cy="885.6" r="4.4"/>
<circle cx="537.1" cy="932" r="4.4"/>
<circle cx="533.4" cy="966.4" r="4.4"/>
<circle cx="530.4" cy="974.7" r="4.4"/>
<circle cx="550.1" cy="976.4" r="4.4"/>
<circle cx="543.1" cy="986.8" r="4.4"/>
<circle cx="535.4" cy="999.8" r="4.4"/>
<circle cx="531.8" cy="1004.8" r="4.4"/>
<circle cx="542.1" cy="1005.5" r="4.4"/>
<circle cx="536.1" cy="1011.1" r="4.4"/>
<circle cx="531.1" cy="1012.8" r="4.4"/>
<circle cx="538.1" cy="1038.2" r="4.4"/>
<circle cx="541.1" cy="1038.8" r="4.4"/>
<circle cx="532.1" cy="1049.5" r="4.4"/>
<circle cx="527.8" cy="1067.9" r="4.4"/>
<circle cx="621.9" cy="880" r="4.4"/>
<circle cx="614.2" cy="893" r="4.4"/>
<circle cx="620.9" cy="905.3" r="4.4"/>
<circle cx="614.2" cy="917.3" r="4.4"/>
<circle cx="615.2" cy="978.1" r="4.4"/>
<circle cx="615.9" cy="992.1" r="4.4"/>
<circle cx="619.6" cy="993.8" r="4.4"/>
<circle cx="625.6" cy="1001.1" r="4.4"/>
<circle cx="617.6" cy="1005.5" r="4.4"/>
<circle cx="633.6" cy="1018.8" r="4.4"/>
<circle cx="611.2" cy="1032.8" r="4.4"/>
<circle cx="616.2" cy="1040.5" r="4.4"/>
<circle cx="625.2" cy="1043.9" r="4.4"/>
<circle cx="621.6" cy="1048.2" r="4.4"/>
<circle cx="626.6" cy="1061.9" r="4.4"/>
<circle cx="619.9" cy="1088.6" r="4.4"/>
<circle cx="784.4" cy="766.8" r="4.4"/>
<circle cx="779.1" cy="835.6" r="4.4"/>
<circle cx="781.4" cy="845.6" r="4.4"/>
<circle cx="787.1" cy="847.9" r="4.4"/>
<circle cx="775.8" cy="884" r="4.4"/>
<circle cx="781.4" cy="933.7" r="4.4"/>
<circle cx="787.1" cy="939.7" r="4.4"/>
<circle cx="782.4" cy="945.4" r="4.4"/>
<circle cx="789.8" cy="957.1" r="4.4"/>
<circle cx="795.1" cy="962.1" r="4.4"/>
<circle cx="775.4" cy="1017.5" r="4.4"/>
<circle cx="777.1" cy="1047.5" r="4.4"/>
<circle cx="777.8" cy="1095.6" r="4.4"/>
<circle cx="782.8" cy="1100.6" r="4.4"/>
<circle cx="870.6" cy="819.5" r="4.4"/>
<circle cx="862.9" cy="846.2" r="4.4"/>
<circle cx="867.9" cy="865.3" r="4.4"/>
<circle cx="863.2" cy="870" r="4.4"/>
<circle cx="864.6" cy="874.6" r="4.4"/>
<circle cx="859.2" cy="950.7" r="4.4"/>
<circle cx="865.9" cy="965.7" r="4.4"/>
<circle cx="871.2" cy="969.4" r="4.4"/>
<circle cx="873.2" cy="993.8" r="4.4"/>
<circle cx="859.2" cy="1000.5" r="4.4"/>
<circle cx="878.6" cy="1056.2" r="4.4"/>
<circle cx="860.5" cy="1064.5" r="4.4"/>
<circle cx="860.9" cy="1105.6" r="4.4"/>
<circle cx="866.2" cy="1166.3" r="4.4"/>
<circle cx="1046.2" cy="780" r="4.4"/>
<circle cx="1041.1" cy="909.5" r="4.4"/>
<circle cx="1037.1" cy="927.8" r="4.4"/>
<circle cx="1042.9" cy="929.2" r="4.4"/>
<circle cx="1038.9" cy="953.7" r="4.4"/>
<circle cx="1056.8" cy="955.2" r="4.4"/>
<circle cx="1051.3" cy="963.3" r="4.4"/>
<circle cx="1042.9" cy="965.8" r="4.4"/>
<circle cx="1040.7" cy="974.6" r="4.4"/>
<circle cx="1037.1" cy="987.4" r="4.4"/>
<circle cx="1048.4" cy="1012.3" r="4.4"/>
<circle cx="1044.4" cy="1017.4" r="4.4"/>
<circle cx="1044" cy="1027.6" r="4.4"/>
<circle cx="1048.4" cy="1032.4" r="4.4"/>
<circle cx="1039.3" cy="1062.8" r="4.4"/>
<circle cx="1129.6" cy="862.3" r="4.4"/>
<circle cx="1122.7" cy="883.9" r="4.4"/>
<circle cx="1124.9" cy="884.6" r="4.4"/>
<circle cx="1120.8" cy="902.5" r="4.4"/>
<circle cx="1126.7" cy="960.7" r="4.4"/>
<circle cx="1140.6" cy="968.4" r="4.4"/>
<circle cx="1120.8" cy="977.5" r="4.4"/>
<circle cx="1124.9" cy="985.6" r="4.4"/>
<circle cx="1127.8" cy="1001.3" r="4.4"/>
<circle cx="1135.5" cy="1002.8" r="4.4"/>
<circle cx="1132.2" cy="1010.4" r="4.4"/>
<circle cx="1128.5" cy="1014.1" r="4.4"/>
<circle cx="1123" cy="1020" r="4.4"/>
<circle cx="1131.8" cy="1082.2" r="4.4"/>
<circle cx="1299" cy="864.1" r="4.4"/>
<circle cx="1299.4" cy="915" r="4.4"/>
<circle cx="1291.7" cy="926.3" r="4.4"/>
<circle cx="1290.2" cy="946.1" r="4.4"/>
<circle cx="1292" cy="956.7" r="4.4"/>
<circle cx="1299.4" cy="959.2" r="4.4"/>
<circle cx="1288" cy="968.4" r="4.4"/>
<circle cx="1293.9" cy="970.2" r="4.4"/>
<circle cx="1299.4" cy="981.6" r="4.4"/>
<circle cx="1293.9" cy="990.3" r="4.4"/>
<circle cx="1298.3" cy="1007.9" r="4.4"/>
<circle cx="1284.7" cy="1016.7" r="4.4"/>
<circle cx="1307.4" cy="1028.4" r="4.4"/>
<circle cx="1294.6" cy="1060.6" r="4.4"/>
<circle cx="1289.8" cy="1114.7" r="4.4"/>
<circle cx="1291.7" cy="1139.2" r="4.4"/>
<circle cx="1382.8" cy="846.2" r="4.4"/>
<circle cx="1375.4" cy="855.3" r="4.4"/>
<circle cx="1383.1" cy="875.1" r="4.4"/>
<circle cx="1376.9" cy="894.5" r="4.4"/>
<circle cx="1373.6" cy="926" r="4.4"/>
<circle cx="1368.9" cy="934.4" r="4.4"/>
<circle cx="1372.2" cy="941.7" r="4.4"/>
<circle cx="1375.4" cy="949" r="4.4"/>
<circle cx="1383.1" cy="949" r="4.4"/>
<circle cx="1375.4" cy="955.6" r="4.4"/>
<circle cx="1378.7" cy="962.2" r="4.4"/>
<circle cx="1383.1" cy="959.2" r="4.4"/>
<circle cx="1391.2" cy="969.1" r="4.4"/>
<circle cx="1373.6" cy="988.1" r="4.4"/>
<circle cx="1381.7" cy="1047.4" r="4.4"/>
<circle cx="289.9" cy="904.3" r="4.4"/>
<circle cx="779.9" cy="836.2" r="4.4"/>
</g>
<line x1="147.3" y1="1306" x2="147.3" y2="1869.5" stroke="#3a3a3a" stroke-width="3.0"/>
<line x1="145.8" y1="1868" x2="1495" y2="1868" stroke="#3a3a3a" stroke-width="3.0"/>
<line x1="147.3" y1="1382.8" x2="165.5" y2="1382.8" stroke="#3a3a3a" stroke-width="3.0"/>
<text transform="translate(127 1401.7) scale(0.955 1)" font-size="47.3" text-anchor="end">100</text>
<line x1="147.3" y1="1572.7" x2="165.5" y2="1572.7" stroke="#3a3a3a" stroke-width="3.0"/>
<text transform="translate(127 1591.6) scale(0.955 1)" font-size="47.3" text-anchor="end">50</text>
<line x1="147.3" y1="1762.6" x2="165.5" y2="1762.6" stroke="#3a3a3a" stroke-width="3.0"/>
<text transform="translate(127 1781.5) scale(0.955 1)" font-size="47.3" text-anchor="end">0</text>
<line x1="165.5" y1="1762.6" x2="1495" y2="1762.6" stroke="#000" stroke-width="3.0"/>
<rect x="249.7" y="1565.4" width="83.4" height="197.2" fill="#e6e6e6" stroke="#000" stroke-width="2.7"/>
<rect x="333.1" y="1580.4" width="84.1" height="182.2" fill="#fff" stroke="#000" stroke-width="2.7"/>
<line x1="333.1" y1="1586.72" x2="417.2" y2="1586.72" stroke="#000" stroke-width="1.6"/>
<line x1="333.1" y1="1596.36" x2="417.2" y2="1596.36" stroke="#000" stroke-width="1.6"/>
<line x1="333.1" y1="1606" x2="417.2" y2="1606" stroke="#000" stroke-width="1.6"/>
<line x1="333.1" y1="1615.64" x2="417.2" y2="1615.64" stroke="#000" stroke-width="1.6"/>
<line x1="333.1" y1="1625.28" x2="417.2" y2="1625.28" stroke="#000" stroke-width="1.6"/>
<line x1="333.1" y1="1634.92" x2="417.2" y2="1634.92" stroke="#000" stroke-width="1.6"/>
<line x1="333.1" y1="1644.56" x2="417.2" y2="1644.56" stroke="#000" stroke-width="1.6"/>
<line x1="333.1" y1="1654.2" x2="417.2" y2="1654.2" stroke="#000" stroke-width="1.6"/>
<line x1="333.1" y1="1663.84" x2="417.2" y2="1663.84" stroke="#000" stroke-width="1.6"/>
<line x1="333.1" y1="1673.48" x2="417.2" y2="1673.48" stroke="#000" stroke-width="1.6"/>
<line x1="333.1" y1="1683.12" x2="417.2" y2="1683.12" stroke="#000" stroke-width="1.6"/>
<line x1="333.1" y1="1692.76" x2="417.2" y2="1692.76" stroke="#000" stroke-width="1.6"/>
<line x1="333.1" y1="1702.4" x2="417.2" y2="1702.4" stroke="#000" stroke-width="1.6"/>
<line x1="333.1" y1="1712.04" x2="417.2" y2="1712.04" stroke="#000" stroke-width="1.6"/>
<line x1="333.1" y1="1721.68" x2="417.2" y2="1721.68" stroke="#000" stroke-width="1.6"/>
<line x1="333.1" y1="1731.32" x2="417.2" y2="1731.32" stroke="#000" stroke-width="1.6"/>
<line x1="333.1" y1="1740.96" x2="417.2" y2="1740.96" stroke="#000" stroke-width="1.6"/>
<line x1="333.1" y1="1750.6" x2="417.2" y2="1750.6" stroke="#000" stroke-width="1.6"/>
<line x1="333.1" y1="1760.24" x2="417.2" y2="1760.24" stroke="#000" stroke-width="1.6"/>
<rect x="333.1" y="1580.4" width="84.1" height="182.2" fill="none" stroke="#000" stroke-width="2.7"/>
<rect x="494.1" y="1576.4" width="84.1" height="186.2" fill="#e6e6e6" stroke="#000" stroke-width="2.7"/>
<rect x="578.2" y="1599.8" width="84.1" height="162.8" fill="#fff" stroke="#000" stroke-width="2.7"/>
<line x1="578.2" y1="1606" x2="662.3" y2="1606" stroke="#000" stroke-width="1.6"/>
<line x1="578.2" y1="1615.64" x2="662.3" y2="1615.64" stroke="#000" stroke-width="1.6"/>
<line x1="578.2" y1="1625.28" x2="662.3" y2="1625.28" stroke="#000" stroke-width="1.6"/>
<line x1="578.2" y1="1634.92" x2="662.3" y2="1634.92" stroke="#000" stroke-width="1.6"/>
<line x1="578.2" y1="1644.56" x2="662.3" y2="1644.56" stroke="#000" stroke-width="1.6"/>
<line x1="578.2" y1="1654.2" x2="662.3" y2="1654.2" stroke="#000" stroke-width="1.6"/>
<line x1="578.2" y1="1663.84" x2="662.3" y2="1663.84" stroke="#000" stroke-width="1.6"/>
<line x1="578.2" y1="1673.48" x2="662.3" y2="1673.48" stroke="#000" stroke-width="1.6"/>
<line x1="578.2" y1="1683.12" x2="662.3" y2="1683.12" stroke="#000" stroke-width="1.6"/>
<line x1="578.2" y1="1692.76" x2="662.3" y2="1692.76" stroke="#000" stroke-width="1.6"/>
<line x1="578.2" y1="1702.4" x2="662.3" y2="1702.4" stroke="#000" stroke-width="1.6"/>
<line x1="578.2" y1="1712.04" x2="662.3" y2="1712.04" stroke="#000" stroke-width="1.6"/>
<line x1="578.2" y1="1721.68" x2="662.3" y2="1721.68" stroke="#000" stroke-width="1.6"/>
<line x1="578.2" y1="1731.32" x2="662.3" y2="1731.32" stroke="#000" stroke-width="1.6"/>
<line x1="578.2" y1="1740.96" x2="662.3" y2="1740.96" stroke="#000" stroke-width="1.6"/>
<line x1="578.2" y1="1750.6" x2="662.3" y2="1750.6" stroke="#000" stroke-width="1.6"/>
<line x1="578.2" y1="1760.24" x2="662.3" y2="1760.24" stroke="#000" stroke-width="1.6"/>
<rect x="578.2" y="1599.8" width="84.1" height="162.8" fill="none" stroke="#000" stroke-width="2.7"/>
<rect x="748.1" y="1601.1" width="84.4" height="161.5" fill="#e6e6e6" stroke="#000" stroke-width="2.7"/>
<rect x="832.5" y="1616.5" width="84.8" height="146.1" fill="#fff" stroke="#000" stroke-width="2.7"/>
<line x1="832.5" y1="1625.28" x2="917.3" y2="1625.28" stroke="#000" stroke-width="1.6"/>
<line x1="832.5" y1="1634.92" x2="917.3" y2="1634.92" stroke="#000" stroke-width="1.6"/>
<line x1="832.5" y1="1644.56" x2="917.3" y2="1644.56" stroke="#000" stroke-width="1.6"/>
<line x1="832.5" y1="1654.2" x2="917.3" y2="1654.2" stroke="#000" stroke-width="1.6"/>
<line x1="832.5" y1="1663.84" x2="917.3" y2="1663.84" stroke="#000" stroke-width="1.6"/>
<line x1="832.5" y1="1673.48" x2="917.3" y2="1673.48" stroke="#000" stroke-width="1.6"/>
<line x1="832.5" y1="1683.12" x2="917.3" y2="1683.12" stroke="#000" stroke-width="1.6"/>
<line x1="832.5" y1="1692.76" x2="917.3" y2="1692.76" stroke="#000" stroke-width="1.6"/>
<line x1="832.5" y1="1702.4" x2="917.3" y2="1702.4" stroke="#000" stroke-width="1.6"/>
<line x1="832.5" y1="1712.04" x2="917.3" y2="1712.04" stroke="#000" stroke-width="1.6"/>
<line x1="832.5" y1="1721.68" x2="917.3" y2="1721.68" stroke="#000" stroke-width="1.6"/>
<line x1="832.5" y1="1731.32" x2="917.3" y2="1731.32" stroke="#000" stroke-width="1.6"/>
<line x1="832.5" y1="1740.96" x2="917.3" y2="1740.96" stroke="#000" stroke-width="1.6"/>
<line x1="832.5" y1="1750.6" x2="917.3" y2="1750.6" stroke="#000" stroke-width="1.6"/>
<line x1="832.5" y1="1760.24" x2="917.3" y2="1760.24" stroke="#000" stroke-width="1.6"/>
<rect x="832.5" y="1616.5" width="84.8" height="146.1" fill="none" stroke="#000" stroke-width="2.7"/>
<rect x="1001.2" y="1565.7" width="84.2" height="196.9" fill="#e6e6e6" stroke="#000" stroke-width="2.7"/>
<rect x="1085.4" y="1604.1" width="83.4" height="158.5" fill="#fff" stroke="#000" stroke-width="2.7"/>
<line x1="1085.4" y1="1615.64" x2="1168.8" y2="1615.64" stroke="#000" stroke-width="1.6"/>
<line x1="1085.4" y1="1625.28" x2="1168.8" y2="1625.28" stroke="#000" stroke-width="1.6"/>
<line x1="1085.4" y1="1634.92" x2="1168.8" y2="1634.92" stroke="#000" stroke-width="1.6"/>
<line x1="1085.4" y1="1644.56" x2="1168.8" y2="1644.56" stroke="#000" stroke-width="1.6"/>
<line x1="1085.4" y1="1654.2" x2="1168.8" y2="1654.2" stroke="#000" stroke-width="1.6"/>
<line x1="1085.4" y1="1663.84" x2="1168.8" y2="1663.84" stroke="#000" stroke-width="1.6"/>
<line x1="1085.4" y1="1673.48" x2="1168.8" y2="1673.48" stroke="#000" stroke-width="1.6"/>
<line x1="1085.4" y1="1683.12" x2="1168.8" y2="1683.12" stroke="#000" stroke-width="1.6"/>
<line x1="1085.4" y1="1692.76" x2="1168.8" y2="1692.76" stroke="#000" stroke-width="1.6"/>
<line x1="1085.4" y1="1702.4" x2="1168.8" y2="1702.4" stroke="#000" stroke-width="1.6"/>
<line x1="1085.4" y1="1712.04" x2="1168.8" y2="1712.04" stroke="#000" stroke-width="1.6"/>
<line x1="1085.4" y1="1721.68" x2="1168.8" y2="1721.68" stroke="#000" stroke-width="1.6"/>
<line x1="1085.4" y1="1731.32" x2="1168.8" y2="1731.32" stroke="#000" stroke-width="1.6"/>
<line x1="1085.4" y1="1740.96" x2="1168.8" y2="1740.96" stroke="#000" stroke-width="1.6"/>
<line x1="1085.4" y1="1750.6" x2="1168.8" y2="1750.6" stroke="#000" stroke-width="1.6"/>
<line x1="1085.4" y1="1760.24" x2="1168.8" y2="1760.24" stroke="#000" stroke-width="1.6"/>
<rect x="1085.4" y="1604.1" width="83.4" height="158.5" fill="none" stroke="#000" stroke-width="2.7"/>
<rect x="1251.8" y="1585.5" width="83.8" height="177.1" fill="#e6e6e6" stroke="#000" stroke-width="2.7"/>
<rect x="1335.6" y="1661.5" width="83.7" height="101.1" fill="#fff" stroke="#000" stroke-width="2.7"/>
<line x1="1335.6" y1="1663.84" x2="1419.3" y2="1663.84" stroke="#000" stroke-width="1.6"/>
<line x1="1335.6" y1="1673.48" x2="1419.3" y2="1673.48" stroke="#000" stroke-width="1.6"/>
<line x1="1335.6" y1="1683.12" x2="1419.3" y2="1683.12" stroke="#000" stroke-width="1.6"/>
<line x1="1335.6" y1="1692.76" x2="1419.3" y2="1692.76" stroke="#000" stroke-width="1.6"/>
<line x1="1335.6" y1="1702.4" x2="1419.3" y2="1702.4" stroke="#000" stroke-width="1.6"/>
<line x1="1335.6" y1="1712.04" x2="1419.3" y2="1712.04" stroke="#000" stroke-width="1.6"/>
<line x1="1335.6" y1="1721.68" x2="1419.3" y2="1721.68" stroke="#000" stroke-width="1.6"/>
<line x1="1335.6" y1="1731.32" x2="1419.3" y2="1731.32" stroke="#000" stroke-width="1.6"/>
<line x1="1335.6" y1="1740.96" x2="1419.3" y2="1740.96" stroke="#000" stroke-width="1.6"/>
<line x1="1335.6" y1="1750.6" x2="1419.3" y2="1750.6" stroke="#000" stroke-width="1.6"/>
<line x1="1335.6" y1="1760.24" x2="1419.3" y2="1760.24" stroke="#000" stroke-width="1.6"/>
<rect x="1335.6" y="1661.5" width="83.7" height="101.1" fill="none" stroke="#000" stroke-width="2.7"/>
<line x1="291.4" y1="1534.3" x2="291.4" y2="1597.1" stroke="#000" stroke-width="3.0"/>
<line x1="278" y1="1534.3" x2="304.8" y2="1534.3" stroke="#000" stroke-width="3.0"/>
<line x1="278" y1="1597.1" x2="304.8" y2="1597.1" stroke="#000" stroke-width="3.0"/>
<line x1="375.2" y1="1554.7" x2="375.2" y2="1607.1" stroke="#000" stroke-width="3.0"/>
<line x1="361.8" y1="1554.7" x2="388.6" y2="1554.7" stroke="#000" stroke-width="3.0"/>
<line x1="361.8" y1="1607.1" x2="388.6" y2="1607.1" stroke="#000" stroke-width="3.0"/>
<line x1="536.1" y1="1549.7" x2="536.1" y2="1603.8" stroke="#000" stroke-width="3.0"/>
<line x1="522.7" y1="1549.7" x2="549.5" y2="1549.7" stroke="#000" stroke-width="3.0"/>
<line x1="522.7" y1="1603.8" x2="549.5" y2="1603.8" stroke="#000" stroke-width="3.0"/>
<line x1="619.6" y1="1580.4" x2="619.6" y2="1619.5" stroke="#000" stroke-width="3.0"/>
<line x1="606.2" y1="1580.4" x2="633" y2="1580.4" stroke="#000" stroke-width="3.0"/>
<line x1="606.2" y1="1619.5" x2="633" y2="1619.5" stroke="#000" stroke-width="3.0"/>
<line x1="790.1" y1="1582.7" x2="790.1" y2="1619.5" stroke="#000" stroke-width="3.0"/>
<line x1="776.7" y1="1582.7" x2="803.5" y2="1582.7" stroke="#000" stroke-width="3.0"/>
<line x1="776.7" y1="1619.5" x2="803.5" y2="1619.5" stroke="#000" stroke-width="3.0"/>
<line x1="874.2" y1="1591.4" x2="874.2" y2="1641.8" stroke="#000" stroke-width="3.0"/>
<line x1="860.8" y1="1591.4" x2="887.6" y2="1591.4" stroke="#000" stroke-width="3.0"/>
<line x1="860.8" y1="1641.8" x2="887.6" y2="1641.8" stroke="#000" stroke-width="3.0"/>
<line x1="1042.9" y1="1548.9" x2="1042.9" y2="1582.9" stroke="#000" stroke-width="3.0"/>
<line x1="1029.5" y1="1548.9" x2="1056.3" y2="1548.9" stroke="#000" stroke-width="3.0"/>
<line x1="1029.5" y1="1582.9" x2="1056.3" y2="1582.9" stroke="#000" stroke-width="3.0"/>
<line x1="1126.7" y1="1583.6" x2="1126.7" y2="1625.3" stroke="#000" stroke-width="3.0"/>
<line x1="1113.3" y1="1583.6" x2="1140.1" y2="1583.6" stroke="#000" stroke-width="3.0"/>
<line x1="1113.3" y1="1625.3" x2="1140.1" y2="1625.3" stroke="#000" stroke-width="3.0"/>
<line x1="1293.1" y1="1556.9" x2="1293.1" y2="1614.4" stroke="#000" stroke-width="3.0"/>
<line x1="1279.7" y1="1556.9" x2="1306.5" y2="1556.9" stroke="#000" stroke-width="3.0"/>
<line x1="1279.7" y1="1614.4" x2="1306.5" y2="1614.4" stroke="#000" stroke-width="3.0"/>
<line x1="1376.9" y1="1637.4" x2="1376.9" y2="1686" stroke="#000" stroke-width="3.0"/>
<line x1="1363.5" y1="1637.4" x2="1390.3" y2="1637.4" stroke="#000" stroke-width="3.0"/>
<line x1="1363.5" y1="1686" x2="1390.3" y2="1686" stroke="#000" stroke-width="3.0"/>
<g fill="#1a1210" fill-opacity="0.56">
<circle cx="292.4" cy="1312" r="4.4"/>
<circle cx="287.7" cy="1477.6" r="4.4"/>
<circle cx="305.1" cy="1477.9" r="4.4"/>
<circle cx="288.4" cy="1494" r="4.4"/>
<circle cx="291.4" cy="1512" r="4.4"/>
<circle cx="286.1" cy="1528.7" r="4.4"/>
<circle cx="289.1" cy="1539.3" r="4.4"/>
<circle cx="291.4" cy="1553.7" r="4.4"/>
<circle cx="297.1" cy="1562" r="4.4"/>
<circle cx="290.1" cy="1575.4" r="4.4"/>
<circle cx="295.4" cy="1578" r="4.4"/>
<circle cx="297.1" cy="1599.8" r="4.4"/>
<circle cx="297.1" cy="1603.8" r="4.4"/>
<circle cx="283" cy="1624.8" r="4.4"/>
<circle cx="290.1" cy="1794" r="4.4"/>
<circle cx="297.1" cy="1808" r="4.4"/>
<circle cx="376.2" cy="1401.8" r="4.4"/>
<circle cx="375.2" cy="1456.2" r="4.4"/>
<circle cx="369.8" cy="1494" r="4.4"/>
<circle cx="372.2" cy="1527" r="4.4"/>
<circle cx="380.5" cy="1536.3" r="4.4"/>
<circle cx="388.8" cy="1539.3" r="4.4"/>
<circle cx="371.2" cy="1548" r="4.4"/>
<circle cx="380.5" cy="1564.4" r="4.4"/>
<circle cx="375.2" cy="1580.4" r="4.4"/>
<circle cx="380.5" cy="1589.7" r="4.4"/>
<circle cx="373.2" cy="1602.8" r="4.4"/>
<circle cx="379.5" cy="1614.5" r="4.4"/>
<circle cx="366.5" cy="1639.8" r="4.4"/>
<circle cx="373.2" cy="1681.9" r="4.4"/>
<circle cx="373.8" cy="1755" r="4.4"/>
<circle cx="380.5" cy="1762.3" r="4.4"/>
<circle cx="532.8" cy="1378.5" r="4.4"/>
<circle cx="533.1" cy="1432.2" r="4.4"/>
<circle cx="534.8" cy="1468.3" r="4.4"/>
<circle cx="542.1" cy="1476.6" r="4.4"/>
<circle cx="537.8" cy="1514.3" r="4.4"/>
<circle cx="550.1" cy="1533" r="4.4"/>
<circle cx="538.1" cy="1564.4" r="4.4"/>
<circle cx="536.1" cy="1577.1" r="4.4"/>
<circle cx="530.4" cy="1583.1" r="4.4"/>
<circle cx="537.5" cy="1595.4" r="4.4"/>
<circle cx="530.4" cy="1603.1" r="4.4"/>
<circle cx="542.8" cy="1610.4" r="4.4"/>
<circle cx="541.8" cy="1614.8" r="4.4"/>
<circle cx="532.1" cy="1665.2" r="4.4"/>
<circle cx="527.4" cy="1677.5" r="4.4"/>
<circle cx="530.4" cy="1740.6" r="4.4"/>
<circle cx="536.1" cy="1772" r="4.4"/>
<circle cx="616.9" cy="1490.9" r="4.4"/>
<circle cx="625.6" cy="1505.6" r="4.4"/>
<circle cx="616.2" cy="1519" r="4.4"/>
<circle cx="621.9" cy="1547.7" r="4.4"/>
<circle cx="614.2" cy="1560.7" r="4.4"/>
<circle cx="633.9" cy="1560" r="4.4"/>
<circle cx="614.2" cy="1573.7" r="4.4"/>
<circle cx="618.6" cy="1594.4" r="4.4"/>
<circle cx="620.2" cy="1599.8" r="4.4"/>
<circle cx="622.2" cy="1608.8" r="4.4"/>
<circle cx="615.9" cy="1618.8" r="4.4"/>
<circle cx="625.6" cy="1627.1" r="4.4"/>
<circle cx="611.2" cy="1665.2" r="4.4"/>
<circle cx="626.6" cy="1675.2" r="4.4"/>
<circle cx="620.9" cy="1726.3" r="4.4"/>
<circle cx="619.9" cy="1764.6" r="4.4"/>
<circle cx="788.5" cy="1474.6" r="4.4"/>
<circle cx="784.4" cy="1527.7" r="4.4"/>
<circle cx="786.4" cy="1532.7" r="4.4"/>
<circle cx="793.5" cy="1571.4" r="4.4"/>
<circle cx="799.1" cy="1584.7" r="4.4"/>
<circle cx="790.1" cy="1601.4" r="4.4"/>
<circle cx="788.5" cy="1610.4" r="4.4"/>
<circle cx="796.1" cy="1627.1" r="4.4"/>
<circle cx="791.1" cy="1634.5" r="4.4"/>
<circle cx="796.5" cy="1635.8" r="4.4"/>
<circle cx="784.4" cy="1638.1" r="4.4"/>
<circle cx="790.1" cy="1648.8" r="4.4"/>
<circle cx="804.5" cy="1665.2" r="4.4"/>
<circle cx="791.8" cy="1733.9" r="4.4"/>
<circle cx="870.9" cy="1494.3" r="4.4"/>
<circle cx="872.9" cy="1497.3" r="4.4"/>
<circle cx="870.6" cy="1518.3" r="4.4"/>
<circle cx="869.2" cy="1551" r="4.4"/>
<circle cx="877.9" cy="1556.7" r="4.4"/>
<circle cx="875.6" cy="1586.4" r="4.4"/>
<circle cx="875.2" cy="1617.1" r="4.4"/>
<circle cx="883.2" cy="1619.5" r="4.4"/>
<circle cx="880.6" cy="1623.8" r="4.4"/>
<circle cx="873.2" cy="1643.2" r="4.4"/>
<circle cx="869.2" cy="1668.2" r="4.4"/>
<circle cx="880.2" cy="1704.2" r="4.4"/>
<circle cx="888.9" cy="1723.2" r="4.4"/>
<circle cx="875.9" cy="1831.1" r="4.4"/>
<circle cx="1048.4" cy="1472.4" r="4.4"/>
<circle cx="1037.1" cy="1488.5" r="4.4"/>
<circle cx="1037.1" cy="1502.4" r="4.4"/>
<circle cx="1045.8" cy="1513.4" r="4.4"/>
<circle cx="1039.3" cy="1536.1" r="4.4"/>
<circle cx="1048.4" cy="1533.9" r="4.4"/>
<circle cx="1056.8" cy="1539.4" r="4.4"/>
<circle cx="1042.9" cy="1565.3" r="4.4"/>
<circle cx="1042.9" cy="1584.7" r="4.4"/>
<circle cx="1042.9" cy="1593.2" r="4.4"/>
<circle cx="1044" cy="1612.5" r="4.4"/>
<circle cx="1041.1" cy="1618.7" r="4.4"/>
<circle cx="1038.9" cy="1655.7" r="4.4"/>
<circle cx="1051.3" cy="1685.3" r="4.4"/>
<circle cx="1132.2" cy="1481.2" r="4.4"/>
<circle cx="1120.8" cy="1509.7" r="4.4"/>
<circle cx="1120.8" cy="1521.4" r="4.4"/>
<circle cx="1126.7" cy="1521.4" r="4.4"/>
<circle cx="1140.6" cy="1558" r="4.4"/>
<circle cx="1132.2" cy="1582.9" r="4.4"/>
<circle cx="1129.6" cy="1594.6" r="4.4"/>
<circle cx="1126.7" cy="1603.7" r="4.4"/>
<circle cx="1124.5" cy="1628.6" r="4.4"/>
<circle cx="1122.3" cy="1663.4" r="4.4"/>
<circle cx="1127.8" cy="1680.2" r="4.4"/>
<circle cx="1135.5" cy="1680.5" r="4.4"/>
<circle cx="1124.9" cy="1695.2" r="4.4"/>
<circle cx="1128.2" cy="1717.9" r="4.4"/>
<circle cx="1284.7" cy="1423.8" r="4.4"/>
<circle cx="1291.7" cy="1436.6" r="4.4"/>
<circle cx="1299.4" cy="1463.3" r="4.4"/>
<circle cx="1288.4" cy="1494.7" r="4.4"/>
<circle cx="1293.1" cy="1539.4" r="4.4"/>
<circle cx="1299" cy="1548.1" r="4.4"/>
<circle cx="1293.9" cy="1554.4" r="4.4"/>
<circle cx="1299.4" cy="1559.8" r="4.4"/>
<circle cx="1292.8" cy="1584.7" r="4.4"/>
<circle cx="1289.8" cy="1590.2" r="4.4"/>
<circle cx="1307.4" cy="1673.3" r="4.4"/>
<circle cx="1299.4" cy="1703.3" r="4.4"/>
<circle cx="1297.5" cy="1710.2" r="4.4"/>
<circle cx="1289.8" cy="1721.5" r="4.4"/>
<circle cx="1291.3" cy="1785.6" r="4.4"/>
<circle cx="1375.1" cy="1503.9" r="4.4"/>
<circle cx="1376.9" cy="1507.5" r="4.4"/>
<circle cx="1368.9" cy="1599.4" r="4.4"/>
<circle cx="1373.6" cy="1622" r="4.4"/>
<circle cx="1391.2" cy="1620.2" r="4.4"/>
<circle cx="1375.1" cy="1637.8" r="4.4"/>
<circle cx="1383.1" cy="1645.8" r="4.4"/>
<circle cx="1376.9" cy="1663.4" r="4.4"/>
<circle cx="1383.1" cy="1678" r="4.4"/>
<circle cx="1375.1" cy="1700.7" r="4.4"/>
<circle cx="1381.7" cy="1710.9" r="4.4"/>
<circle cx="1382.8" cy="1781.2" r="4.4"/>
<circle cx="1382.8" cy="1809" r="4.4"/>
<circle cx="1373.3" cy="1825.1" r="4.4"/>
<circle cx="615" cy="1561.3" r="4.4"/>
<circle cx="1374.4" cy="1622.6" r="4.4"/>
</g>
<text x="186" y="39.4" font-size="54" font-weight="bold">a.</text>
<text x="189" y="710" font-size="54" font-weight="bold">b.</text>
<text x="186" y="1335" font-size="54" font-weight="bold">c.</text>
<path d="M617.9 113.5 L617.9 90.4 L1383 90.4 L1383 130.6" fill="none" stroke="#2d2a28" stroke-width="2.8"/>
<text x="994.7" y="94.5" font-size="46" text-anchor="middle" fill="#333">*</text>
<path d="M1302.9 47.9 L1302.9 29.9 L1378.6 29.9 L1378.6 60.7" fill="none" stroke="#000" stroke-width="3"/>
<text x="1341" y="31.1" font-size="43" font-weight="bold" text-anchor="middle">*</text>
<path d="M785.1 739.1 L785.1 720.4 L861.2 720.4 L861.2 751.1" fill="none" stroke="#000" stroke-width="3"/>
<text x="823.3" y="721.6" font-size="43" font-weight="bold" text-anchor="middle">*</text>
<path d="M1297.2 795.4 L1297.2 764.3 L1373.3 764.3 L1373.3 782.5" fill="none" stroke="#000" stroke-width="3"/>
<text x="1335.5" y="766.1" font-size="43" font-weight="bold" text-anchor="middle">*</text>
<rect x="692.5" y="486.9" width="32.7" height="31.8" fill="#e6e6e6" stroke="#000" stroke-width="2.9"/>
<text x="739.0" y="518.9" font-size="46" textLength="264.3" lengthAdjust="spacingAndGlyphs">Recalibration</text>
<rect x="692.5" y="542.4" width="32.7" height="32.3" fill="#fff" stroke="#000" stroke-width="2.9"/>
<line x1="692.5" y1="545.6" x2="725.2" y2="545.6" stroke="#000" stroke-width="1.5"/>
<line x1="692.5" y1="555.5" x2="725.2" y2="555.5" stroke="#000" stroke-width="1.5"/>
<line x1="692.5" y1="566.3" x2="725.2" y2="566.3" stroke="#000" stroke-width="1.5"/>
<text x="739.0" y="573.5" font-size="46" textLength="195.4" lengthAdjust="spacingAndGlyphs">Retention</text>
<text transform="translate(37.0 975.6) rotate(-90)" font-size="51" text-anchor="middle">Magnitude of change (mm)</text>
<rect x="254.5" y="1846.9" width="159.4" height="205" rx="48" ry="48" fill="#fff7e0" stroke="#1c1a1a" stroke-width="2.8"/>
<rect x="504.1" y="1847.3" width="159.4" height="205" rx="48" ry="48" fill="#e3f6eb" stroke="#1c1a1a" stroke-width="2.8"/>
<rect x="760" y="1847.9" width="159.4" height="205" rx="48" ry="48" fill="#eae2f9" stroke="#1c1a1a" stroke-width="2.8"/>
<rect x="1014.7" y="1846.4" width="159.4" height="205" rx="48" ry="48" fill="#efd8d4" stroke="#1c1a1a" stroke-width="2.8"/>
<rect x="1259.1" y="1848.9" width="159.4" height="205" rx="48" ry="48" fill="#e6f3fb" stroke="#1c1a1a" stroke-width="2.8"/>
<text x="332" y="1897.9" font-size="44" text-anchor="middle">AV</text>
<path d="M292.1 1939.3 A50 50 0 0 1 375.1 1939.3 A50 50 0 0 1 292.1 1939.3 Z" fill="#fff" stroke="#1c1a1a" stroke-width="2.9" stroke-linejoin="miter"/>
<circle cx="333.6" cy="1939.3" r="19.0" fill="#7f7356" stroke="#1c1a1a" stroke-width="2.9"/>
<circle cx="333.6" cy="1939.3" r="10.0" fill="#000" stroke="#1e1c1c" stroke-width="2.4"/>
<circle cx="330.3" cy="1934.6" r="3.1" fill="#fff"/>
<ellipse cx="331.45" cy="1986.6" rx="40.5" ry="13.1" fill="none" stroke="#1c1a1a" stroke-width="2.6" stroke-dasharray="16 6 5 6" stroke-dashoffset="3"/>
<path d="M297.05 1991.8 L321.45 1992.2 L314.25 1999.3 L310.75 2013.9 Q306.45 2000.6 297.05 1991.8 Z" fill="#1c1a1a"/>
<path d="M335.05 1995 L350.05 1972.8 C351.75 1970 356.25 1970.8 356.05 1974.7 L346.15 1996.7 L348.75 1998 L352.25 2003.1 L357.95 2009.4 C359.95 2011.1 360.95 2013.1 360.45 2015.1 L352.25 2029.1 L333.15 2042.4 L312.95 2028.5 L312.25 2008.2 C312.45 2004.6 313.45 2002.6 314.85 2000.6 L322.45 1991.7 C323.95 1990.2 324.95 1989.8 325.95 1989.8 L329.35 1991 Z" fill="#fde7d9" stroke="#1c1a1a" stroke-width="2.9" stroke-linejoin="round"/>
<rect x="-9" y="-3.1" width="18" height="6.2" rx="3.1" transform="translate(341.75 2005.1) rotate(133.0)" fill="#fde7d9" stroke="#1c1a1a" stroke-width="2.3"/>
<rect x="-9" y="-3.1" width="18" height="6.2" rx="3.1" transform="translate(346.75 2010.6) rotate(133.0)" fill="#fde7d9" stroke="#1c1a1a" stroke-width="2.3"/>
<rect x="-9" y="-3.1" width="18" height="6.2" rx="3.1" transform="translate(352.45 2016.2) rotate(133.0)" fill="#fde7d9" stroke="#1c1a1a" stroke-width="2.3"/>
<circle cx="336.35" cy="2011.2" r="2.3" fill="#fde7d9" stroke="#1c1a1a" stroke-width="2.3"/>
<circle cx="342.05" cy="2017" r="2.3" fill="#fde7d9" stroke="#1c1a1a" stroke-width="2.3"/>
<circle cx="348.25" cy="2021.6" r="2.3" fill="#fde7d9" stroke="#1c1a1a" stroke-width="2.3"/>
<path d="M326.45 1997.6 C327.85 2003.6 328.05 2011.6 327.25 2019.1" fill="none" stroke="#1c1a1a" stroke-width="2.5" stroke-linecap="round"/>
<path d="M321.65 1999.6 Q325.95 1996.8 329.95 1998.6 L335.25 2001.4" fill="none" stroke="#1c1a1a" stroke-width="2.3" stroke-linecap="round" stroke-linejoin="round"/>
<text x="585" y="1900.4" font-size="44" text-anchor="middle">RV</text>
<path d="M545.2 1951.1 A50 50 0 0 1 628.2 1951.1 A50 50 0 0 1 545.2 1951.1 Z" fill="#fff" stroke="#1c1a1a" stroke-width="2.9" stroke-linejoin="miter"/>
<circle cx="586.7" cy="1951.1" r="19.0" fill="#7f7356" stroke="#1c1a1a" stroke-width="2.9"/>
<circle cx="586.7" cy="1951.1" r="10.0" fill="#000" stroke="#1e1c1c" stroke-width="2.4"/>
<circle cx="583.4" cy="1946.4" r="3.1" fill="#fff"/>
<path d="M543.68 1996.35 L557.03 1996.05 C565.68 1996.95 575.68 1998.35 584.38 2000.05 L627.08 2008.05 C627.88 2008.65 627.88 2010.15 627.28 2011.15 L625.08 2013.15 C624.28 2013.95 623.68 2014.35 623.08 2014.35 L572.38 2014.35 C569.68 2014.55 568.18 2015.95 566.38 2016.35 C561.68 2017.25 555.68 2017.55 550.68 2016.05 C549.18 2015.45 548.18 2014.65 546.68 2014.35 L543.68 2014.35 Z" fill="#fde7d9" stroke="#1c1a1a" stroke-width="2.7" stroke-linejoin="round"/>
<path d="M563.68 2001.35 C573.68 2003.85 585.68 2005.15 594.18 2007.65" fill="none" stroke="#1c1a1a" stroke-width="2.7" stroke-linecap="round"/>
<circle cx="594.28" cy="2010.95" r="3.4" fill="#fde7d9" stroke="#1c1a1a" stroke-width="2.4"/>
<text x="841.7" y="1901" font-size="44" text-anchor="middle">ANV</text>
<path d="M798.95 1924.9 L800.99 1927.75 L803.03 1930.36 L805.06 1932.76 L807.1 1934.94 L809.14 1936.91 L811.18 1938.68 L813.21 1940.26 L815.25 1941.66 L817.29 1942.88 L819.33 1943.94 L821.36 1944.84 L823.4 1945.59 L825.44 1946.21 L827.48 1946.7 L829.51 1947.08 L831.55 1947.35 L833.59 1947.54 L835.62 1947.64 L837.66 1947.69 L839.7 1947.7 L841.74 1947.69 L843.78 1947.64 L845.81 1947.54 L847.85 1947.35 L849.89 1947.08 L851.93 1946.7 L853.96 1946.21 L856 1945.59 L858.04 1944.84 L860.08 1943.94 L862.11 1942.88 L864.15 1941.66 L866.19 1940.26 L868.23 1938.68 L870.26 1936.91 L872.3 1934.94 L874.34 1932.76 L876.38 1930.36 L878.41 1927.75 L880.45 1924.9" fill="none" stroke="#1c1a1a" stroke-width="3.0" stroke-linejoin="round"/>
<line x1="839.7" y1="1948.5" x2="839.7" y2="1957.1" stroke="#1c1a1a" stroke-width="2.9"/>
<line x1="851.08" y1="1947.7" x2="852.3" y2="1954.9" stroke="#1c1a1a" stroke-width="2.9"/>
<line x1="828.32" y1="1947.7" x2="827.1" y2="1954.9" stroke="#1c1a1a" stroke-width="2.9"/>
<line x1="860.8" y1="1944.5" x2="863.3" y2="1951.5" stroke="#1c1a1a" stroke-width="2.9"/>
<line x1="818.6" y1="1944.5" x2="816.1" y2="1951.5" stroke="#1c1a1a" stroke-width="2.9"/>
<line x1="869.8" y1="1939.1" x2="874.1" y2="1946.1" stroke="#1c1a1a" stroke-width="2.9"/>
<line x1="809.6" y1="1939.1" x2="805.3" y2="1946.1" stroke="#1c1a1a" stroke-width="2.9"/>
<line x1="876.6" y1="1932.5" x2="882.5" y2="1938.4" stroke="#1c1a1a" stroke-width="2.9"/>
<line x1="802.8" y1="1932.5" x2="796.9" y2="1938.4" stroke="#1c1a1a" stroke-width="2.9"/>
<line x1="880.45" y1="1924.9" x2="888.9" y2="1929.7" stroke="#1c1a1a" stroke-width="2.9"/>
<line x1="798.95" y1="1924.9" x2="790.5" y2="1929.7" stroke="#1c1a1a" stroke-width="2.9"/>
<ellipse cx="841.25" cy="1980.7" rx="40.5" ry="13.1" fill="none" stroke="#1c1a1a" stroke-width="2.6" stroke-dasharray="16 6 5 6" stroke-dashoffset="3"/>
<path d="M806.85 1985.9 L831.25 1986.3 L824.05 1993.4 L820.55 2008 Q816.25 1994.7 806.85 1985.9 Z" fill="#1c1a1a"/>
<path d="M844.85 1989.1 L859.85 1966.9 C861.55 1964.1 866.05 1964.9 865.85 1968.8 L855.95 1990.8 L858.55 1992.1 L862.05 1997.2 L867.75 2003.5 C869.75 2005.2 870.75 2007.2 870.25 2009.2 L862.05 2023.2 L842.95 2036.5 L822.75 2022.6 L822.05 2002.3 C822.25 1998.7 823.25 1996.7 824.65 1994.7 L832.25 1985.8 C833.75 1984.3 834.75 1983.9 835.75 1983.9 L839.15 1985.1 Z" fill="#fde7d9" stroke="#1c1a1a" stroke-width="2.9" stroke-linejoin="round"/>
<rect x="-9" y="-3.1" width="18" height="6.2" rx="3.1" transform="translate(851.55 1999.2) rotate(133.0)" fill="#fde7d9" stroke="#1c1a1a" stroke-width="2.3"/>
<rect x="-9" y="-3.1" width="18" height="6.2" rx="3.1" transform="translate(856.55 2004.7) rotate(133.0)" fill="#fde7d9" stroke="#1c1a1a" stroke-width="2.3"/>
<rect x="-9" y="-3.1" width="18" height="6.2" rx="3.1" transform="translate(862.25 2010.3) rotate(133.0)" fill="#fde7d9" stroke="#1c1a1a" stroke-width="2.3"/>
<circle cx="846.15" cy="2005.3" r="2.3" fill="#fde7d9" stroke="#1c1a1a" stroke-width="2.3"/>
<circle cx="851.85" cy="2011.1" r="2.3" fill="#fde7d9" stroke="#1c1a1a" stroke-width="2.3"/>
<circle cx="858.05" cy="2015.7" r="2.3" fill="#fde7d9" stroke="#1c1a1a" stroke-width="2.3"/>
<path d="M836.25 1991.7 C837.65 1997.7 837.85 2005.7 837.05 2013.2" fill="none" stroke="#1c1a1a" stroke-width="2.5" stroke-linecap="round"/>
<path d="M831.45 1993.7 Q835.75 1990.9 839.75 1992.7 L845.05 1995.5" fill="none" stroke="#1c1a1a" stroke-width="2.3" stroke-linecap="round" stroke-linejoin="round"/>
<text x="1097.6" y="1905.8" font-size="44" text-anchor="middle">RNV</text>
<path d="M1057.25 1932.7 L1059.29 1935.55 L1061.33 1938.16 L1063.36 1940.56 L1065.4 1942.74 L1067.44 1944.71 L1069.47 1946.48 L1071.51 1948.06 L1073.55 1949.46 L1075.59 1950.68 L1077.62 1951.74 L1079.66 1952.64 L1081.7 1953.39 L1083.74 1954.01 L1085.78 1954.5 L1087.81 1954.88 L1089.85 1955.15 L1091.89 1955.34 L1093.92 1955.44 L1095.96 1955.49 L1098 1955.5 L1100.04 1955.49 L1102.08 1955.44 L1104.11 1955.34 L1106.15 1955.15 L1108.19 1954.88 L1110.22 1954.5 L1112.26 1954.01 L1114.3 1953.39 L1116.34 1952.64 L1118.38 1951.74 L1120.41 1950.68 L1122.45 1949.46 L1124.49 1948.06 L1126.53 1946.48 L1128.56 1944.71 L1130.6 1942.74 L1132.64 1940.56 L1134.67 1938.16 L1136.71 1935.55 L1138.75 1932.7" fill="none" stroke="#1c1a1a" stroke-width="3.0" stroke-linejoin="round"/>
<line x1="1098" y1="1956.3" x2="1098" y2="1964.9" stroke="#1c1a1a" stroke-width="2.9"/>
<line x1="1109.38" y1="1955.5" x2="1110.6" y2="1962.7" stroke="#1c1a1a" stroke-width="2.9"/>
<line x1="1086.62" y1="1955.5" x2="1085.4" y2="1962.7" stroke="#1c1a1a" stroke-width="2.9"/>
<line x1="1119.1" y1="1952.3" x2="1121.6" y2="1959.3" stroke="#1c1a1a" stroke-width="2.9"/>
<line x1="1076.9" y1="1952.3" x2="1074.4" y2="1959.3" stroke="#1c1a1a" stroke-width="2.9"/>
<line x1="1128.1" y1="1946.9" x2="1132.4" y2="1953.9" stroke="#1c1a1a" stroke-width="2.9"/>
<line x1="1067.9" y1="1946.9" x2="1063.6" y2="1953.9" stroke="#1c1a1a" stroke-width="2.9"/>
<line x1="1134.9" y1="1940.3" x2="1140.8" y2="1946.2" stroke="#1c1a1a" stroke-width="2.9"/>
<line x1="1061.1" y1="1940.3" x2="1055.2" y2="1946.2" stroke="#1c1a1a" stroke-width="2.9"/>
<line x1="1138.75" y1="1932.7" x2="1147.2" y2="1937.5" stroke="#1c1a1a" stroke-width="2.9"/>
<line x1="1057.25" y1="1932.7" x2="1048.8" y2="1937.5" stroke="#1c1a1a" stroke-width="2.9"/>
<path d="M1057.6 1983.4 L1070.95 1983.1 C1079.6 1984 1089.6 1985.4 1098.3 1987.1 L1141 1995.1 C1141.8 1995.7 1141.8 1997.2 1141.2 1998.2 L1139 2000.2 C1138.2 2001 1137.6 2001.4 1137 2001.4 L1086.3 2001.4 C1083.6 2001.6 1082.1 2003 1080.3 2003.4 C1075.6 2004.3 1069.6 2004.6 1064.6 2003.1 C1063.1 2002.5 1062.1 2001.7 1060.6 2001.4 L1057.6 2001.4 Z" fill="#fde7d9" stroke="#1c1a1a" stroke-width="2.7" stroke-linejoin="round"/>
<path d="M1077.6 1988.4 C1087.6 1990.9 1099.6 1992.2 1108.1 1994.7" fill="none" stroke="#1c1a1a" stroke-width="2.7" stroke-linecap="round"/>
<circle cx="1108.2" cy="1998" r="3.4" fill="#fde7d9" stroke="#1c1a1a" stroke-width="2.4"/>
<text x="1340.5" y="1967.9" font-size="49.5" text-anchor="middle">24h</text>
</svg>
</body></html>
